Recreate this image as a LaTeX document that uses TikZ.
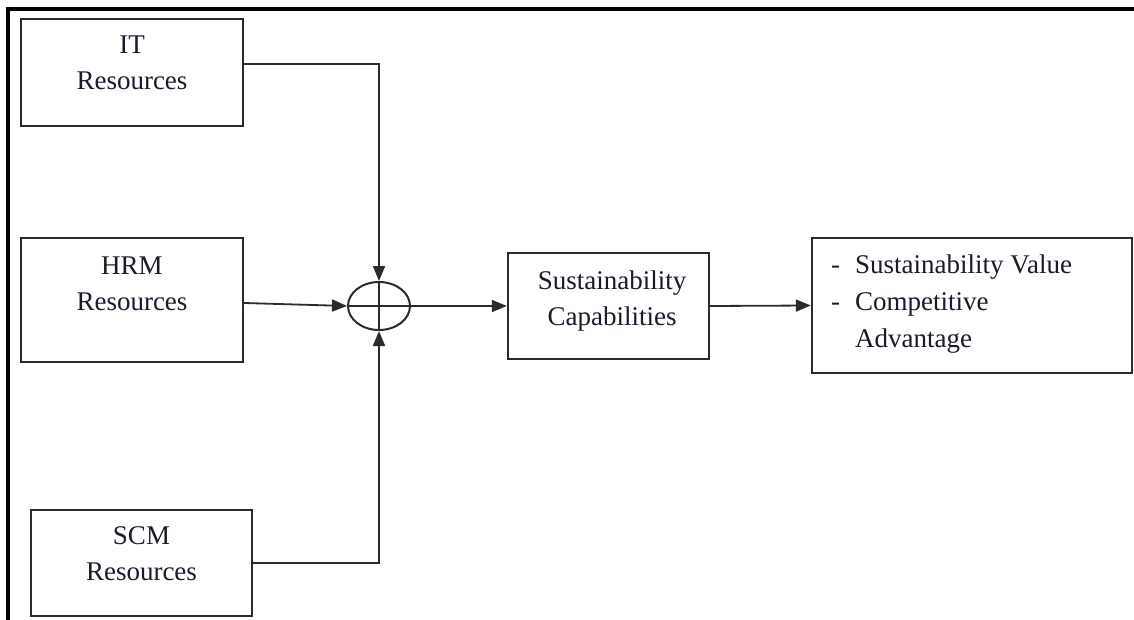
\documentclass[tikz,border=0pt]{standalone}
\usepackage{fontspec}
\setmainfont{Liberation Serif}
\usetikzlibrary{arrows.meta,shapes.geometric}
\definecolor{boxline}{HTML}{2B2B2B}
\definecolor{txt}{HTML}{1A1A2A}
\tikzset{
  box/.style={draw=boxline, line width=2.4pt, rectangle, inner sep=0pt},
  lbl/.style={anchor=base, align=center, text=txt, font=\fontsize{27}{36}\selectfont, inner sep=0pt},
  arr/.style={draw=boxline, line width=1.8pt, -{Triangle[length=15pt,width=12pt]}},
  conn/.style={draw=boxline, line width=1.8pt},
}
\begin{document}
\begin{tikzpicture}[x=1pt,y=-1pt]
\useasboundingbox (0,0) rectangle (1134,620);
% outer frame (top and left edges)
\draw[line width=3.5pt, black] (8,620) -- (8,9) -- (1134,9);
% boxes
\node[box, minimum width=222pt, minimum height=107pt] (it) at (132,72.5) {};
\node[box, minimum width=222pt, minimum height=124pt] (hrm) at (132,300) {};
\node[box, minimum width=221pt, minimum height=106pt] (scm) at (141.5,563) {};
\node[box, minimum width=201pt, minimum height=106pt] (sc) at (608.5,306) {};
\node[box, minimum width=320pt, minimum height=135pt] (out) at (972,305.5) {};
\node[draw=boxline, line width=2pt, ellipse, minimum width=62pt, minimum height=48pt, inner sep=0pt] (sum) at (379,306) {};
\draw[conn] (sum.north) -- (sum.south);
\draw[conn] (sum.west) -- (sum.east);
% labels (anchor base = baseline of the last line)
\node[lbl] (itl) at (132,90) {IT\\Resources};
\node[lbl] (hrml) at (132,310) {HRM\\Resources};
\node[lbl] (scml) at (141.5,580) {SCM\\Resources};
\node[lbl] (scl) at (612,325) {Sustainability\\Capabilities};
\node[lbl, anchor=base west, align=left, font=\fontsize{27}{37}\selectfont] (outl) at (831,347)
  {\makebox[24pt][l]{-}Sustainability Value\\\makebox[24pt][l]{-}Competitive\\\hspace*{24pt}Advantage};
% connectors
\draw[arr] ([yshift=8.5pt]it.east) -| (sum.north);
\draw[arr] (scm.east) -| (sum.south);
\draw[arr] ([yshift=-3pt]hrm.east) -- (sum.west);
\draw[arr] (sum.east) -- (sc.west);
\draw[arr] (sc.east) -- (out.west);
\end{tikzpicture}
\end{document}
